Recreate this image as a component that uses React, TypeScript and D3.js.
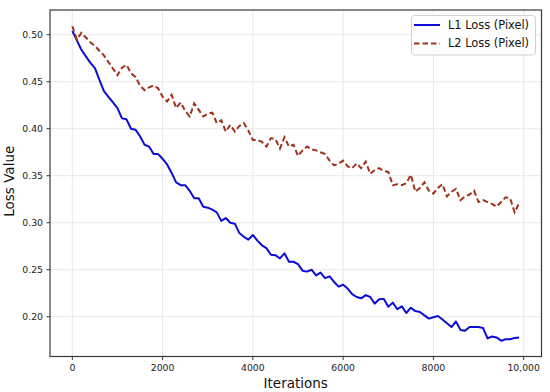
import React from "react";
import * as d3 from "d3";

const iterations: number[] = Array.from({ length: 100 }, (_, i) => i * 100);

const l1Loss: number[] = [
  0.504, 0.494, 0.484, 0.477, 0.470, 0.4645, 0.452, 0.440, 0.434, 0.428,
  0.422, 0.411, 0.410, 0.400, 0.399, 0.392, 0.383, 0.381, 0.373, 0.373,
  0.368, 0.362, 0.353, 0.343, 0.340, 0.340, 0.334, 0.326, 0.326, 0.317,
  0.316, 0.314, 0.311, 0.302, 0.305, 0.300, 0.299, 0.289, 0.285, 0.282,
  0.287, 0.281, 0.276, 0.273, 0.266, 0.2655, 0.262, 0.2675, 0.2585, 0.2585,
  0.256, 0.249, 0.248, 0.250, 0.244, 0.247, 0.241, 0.243, 0.237, 0.232,
  0.234, 0.230, 0.224, 0.221, 0.2196, 0.223, 0.221, 0.214, 0.2185, 0.219,
  0.2106, 0.215, 0.208, 0.211, 0.204, 0.2096, 0.206, 0.205, 0.2015, 0.198,
  0.1995, 0.2007, 0.197, 0.193, 0.189, 0.195, 0.186, 0.185, 0.189, 0.189,
  0.189, 0.188, 0.177, 0.179, 0.178, 0.1745, 0.176, 0.176, 0.1775, 0.178,
];

const l2Loss: number[] = [
  0.509, 0.495, 0.502, 0.497, 0.492, 0.488, 0.483, 0.478, 0.471, 0.464,
  0.457, 0.465, 0.468, 0.459, 0.455, 0.446, 0.441, 0.444, 0.446, 0.443,
  0.434, 0.429, 0.436, 0.422, 0.428, 0.419, 0.413, 0.427, 0.420, 0.413,
  0.416, 0.417, 0.406, 0.409, 0.397, 0.404, 0.397, 0.403, 0.406, 0.398,
  0.388, 0.388, 0.386, 0.381, 0.390, 0.389, 0.379, 0.391, 0.381, 0.383,
  0.371, 0.377, 0.381, 0.378, 0.377, 0.375, 0.373, 0.366, 0.361, 0.363,
  0.366, 0.360, 0.358, 0.363, 0.358, 0.365, 0.352, 0.356, 0.358, 0.355,
  0.354, 0.340, 0.341, 0.340, 0.342, 0.351, 0.333, 0.337, 0.343, 0.334,
  0.331, 0.337, 0.341, 0.328, 0.333, 0.336, 0.324, 0.328, 0.330, 0.334,
  0.322, 0.324, 0.322, 0.320, 0.317, 0.322, 0.327, 0.326, 0.311, 0.321,
];

const xTicks: number[] = [0, 2000, 4000, 6000, 8000, 10000];
const yTicks: number[] = [0.2, 0.25, 0.3, 0.35, 0.4, 0.45, 0.5];
const seriesNames: string[] = ["L1 Loss (Pixel)", "L2 Loss (Pixel)"];

const W = 550;
const H = 392;
const left = 50;
const right = 541.5;
const top = 10;
const bottom = 356.5;
const FONT = "'DejaVu Sans', sans-serif";
const BLUE = "#0c0cd6";
const BROWN = "#a0321c";

export default function App() {
  const x = d3.scaleLinear().domain([-495, 10395]).range([left, right]);
  const y = d3.scaleLinear().domain([0.1577, 0.5263]).range([bottom, top]);
  const line = d3
    .line<number>()
    .x((_, i) => x(iterations[i]))
    .y((d) => y(d));
  const fmtX = (v: number) => (v >= 10000 ? d3.format(",")(v) : String(v));

  return (
    <svg
      width={W}
      height={H}
      style={{ position: "absolute", left: 0, top: 0, background: "#fff" }}
      fontFamily={FONT}
    >
      <rect x={0} y={0} width={W} height={H} fill="#fff" />
      {xTicks.map((t) => (
        <line key={"gx" + t} x1={x(t)} x2={x(t)} y1={top} y2={bottom} stroke="#e8e8e8" strokeWidth={1} />
      ))}
      {yTicks.map((t) => (
        <line key={"gy" + t} x1={left} x2={right} y1={y(t)} y2={y(t)} stroke="#e8e8e8" strokeWidth={1} />
      ))}
      <path d={line(l1Loss) || ""} fill="none" stroke={BLUE} strokeWidth={2} strokeLinejoin="round" />
      <path d={line(l2Loss) || ""} fill="none" stroke={BROWN} strokeWidth={2} strokeDasharray="5.5,3" />
      <rect x={left} y={top} width={right - left} height={bottom - top} fill="none" stroke="#3a3a3a" strokeWidth={1.2} />
      {xTicks.map((t) => (
        <g key={"tx" + t}>
          <line x1={x(t)} x2={x(t)} y1={bottom} y2={bottom + 3.5} stroke="#3a3a3a" strokeWidth={1} />
          <text x={x(t)} y={bottom + 14.5} textAnchor="middle" fontSize={9.3} fill="#222">
            {fmtX(t)}
          </text>
        </g>
      ))}
      {yTicks.map((t) => (
        <g key={"ty" + t}>
          <line x1={left - 3.5} x2={left} y1={y(t)} y2={y(t)} stroke="#3a3a3a" strokeWidth={1} />
          <text x={left - 7} y={y(t)} dy="0.35em" textAnchor="end" fontSize={9.3} fill="#222">
            {d3.format(".2f")(t)}
          </text>
        </g>
      ))}
      <text x={(left + right) / 2} y={387.5} textAnchor="middle" fontSize={13.5} fill="#111">
        Iterations
      </text>
      <text
        transform={`translate(14, ${(top + bottom) / 2 - 2}) rotate(-90)`}
        textAnchor="middle"
        fontSize={13.5}
        fill="#111"
      >
        Loss Value
      </text>
      <rect x={411.5} y={15.5} width={124} height={39.5} rx={3} fill="#fff" fillOpacity={0.85} stroke="#d0d0d0" strokeWidth={1} />
      <line x1={414} x2={440} y1={25} y2={25} stroke={BLUE} strokeWidth={2} />
      <line x1={414} x2={440} y1={43.5} y2={43.5} stroke={BROWN} strokeWidth={2} strokeDasharray="5.5,3" />
      <text x={448} y={25} dy="0.35em" fontSize={11.4} fill="#111">
        {seriesNames[0]}
      </text>
      <text x={448} y={43.5} dy="0.35em" fontSize={11.4} fill="#111">
        {seriesNames[1]}
      </text>
    </svg>
  );
}
